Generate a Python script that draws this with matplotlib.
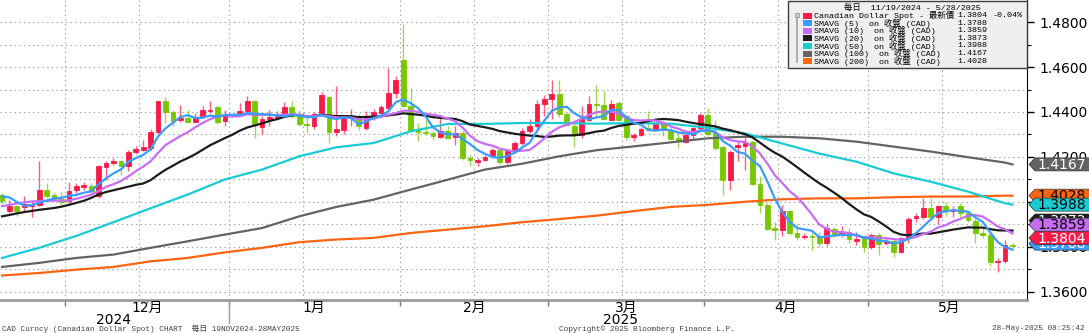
import numpy as np
import pandas as pd
import matplotlib
matplotlib.use("Agg")
import matplotlib.pyplot as plt
from matplotlib.patches import Polygon, Rectangle
from matplotlib.transforms import blended_transform_factory

SANS = ["DejaVu Sans", "Noto Sans CJK TC"]
MONO = ["Liberation Mono", "Noto Sans CJK TC"]

# daily USD/CAD bars, one per weekday 19 Nov 2024 .. 28 May 2025
dates = pd.bdate_range("2024-11-19", "2025-05-28")

opens = [1.4033, 1.3958, 1.3981, 1.3976, 1.3981, 1.3988, 1.4055, 1.4033, 1.4013, 1.4003,
         1.4052, 1.4067, 1.4073, 1.4025, 1.4156, 1.4173, 1.4181, 1.4159, 1.4221, 1.4233,
         1.4240, 1.4310, 1.4447, 1.4399, 1.4363, 1.4373, 1.4357, 1.4381, 1.4406, 1.4422,
         1.4359, 1.4384, 1.4393, 1.4403, 1.4447, 1.4333, 1.4370, 1.4378, 1.4393, 1.4422,
         1.4381, 1.4348, 1.4339, 1.4391, 1.4467, 1.4310, 1.4321, 1.4375, 1.4381, 1.4329,
         1.4373, 1.4396, 1.4418, 1.4484, 1.4630, 1.4428, 1.4321, 1.4313, 1.4307, 1.4289,
         1.4314, 1.4287, 1.4307, 1.4196, 1.4176, 1.4188, 1.4203, 1.4233, 1.4176, 1.4225,
         1.4262, 1.4314, 1.4336, 1.4437, 1.4458, 1.4481, 1.4393, 1.4339, 1.4299, 1.4366,
         1.4437, 1.4433, 1.4366, 1.4440, 1.4381, 1.4289, 1.4296, 1.4329, 1.4324, 1.4351,
         1.4321, 1.4284, 1.4265, 1.4299, 1.4329, 1.4388, 1.4307, 1.4244, 1.4099, 1.4244,
         1.4250, 1.4265, 1.4081, 1.3985, 1.3884, 1.3874, 1.3959, 1.3862, 1.3844, 1.3849,
         1.3846, 1.3816, 1.3881, 1.3858, 1.3868, 1.3828, 1.3838, 1.3801, 1.3853, 1.3816,
         1.3828, 1.3779, 1.3839, 1.3927, 1.3935, 1.3975, 1.3935, 1.3982, 1.3961, 1.3982,
         1.3953, 1.3917, 1.3864, 1.3853, 1.3735, 1.3739, 1.3810]
highs = [1.4042, 1.4010, 1.3988, 1.4025, 1.4003, 1.4181, 1.4084, 1.4043, 1.4047, 1.4087,
         1.4084, 1.4087, 1.4084, 1.4166, 1.4181, 1.4194, 1.4188, 1.4230, 1.4250, 1.4277,
         1.4324, 1.4450, 1.4467, 1.4410, 1.4433, 1.4410, 1.4396, 1.4425, 1.4447, 1.4433,
         1.4410, 1.4392, 1.4440, 1.4470, 1.4455, 1.4381, 1.4410, 1.4403, 1.4443, 1.4447,
         1.4410, 1.4381, 1.4399, 1.4487, 1.4473, 1.4514, 1.4381, 1.4413, 1.4391, 1.4403,
         1.4413, 1.4433, 1.4596, 1.4559, 1.4793, 1.4507, 1.4351, 1.4366, 1.4314, 1.4373,
         1.4339, 1.4336, 1.4314, 1.4210, 1.4196, 1.4210, 1.4240, 1.4240, 1.4233, 1.4270,
         1.4329, 1.4369, 1.4452, 1.4477, 1.4544, 1.4544, 1.4399, 1.4351, 1.4428, 1.4470,
         1.4521, 1.4492, 1.4455, 1.4447, 1.4388, 1.4307, 1.4333, 1.4403, 1.4366, 1.4366,
         1.4336, 1.4307, 1.4307, 1.4333, 1.4396, 1.4418, 1.4366, 1.4255, 1.4233, 1.4270,
         1.4292, 1.4277, 1.4114, 1.3996, 1.3910, 1.3988, 1.3966, 1.3907, 1.3862, 1.3868,
         1.3868, 1.3902, 1.3890, 1.3893, 1.3883, 1.3868, 1.3853, 1.3861, 1.3861, 1.3839,
         1.3839, 1.3846, 1.3935, 1.3950, 1.4016, 1.4016, 1.3987, 1.4001, 1.3982, 1.3994,
         1.3960, 1.3927, 1.3890, 1.3861, 1.3750, 1.3831, 1.3819]
lows = [1.3990, 1.3951, 1.3936, 1.3958, 1.3933, 1.3981, 1.4018, 1.4003, 1.3988, 1.3993,
        1.4040, 1.4055, 1.4040, 1.4018, 1.4099, 1.4166, 1.4121, 1.4136, 1.4215, 1.4225,
        1.4233, 1.4304, 1.4351, 1.4336, 1.4354, 1.4351, 1.4351, 1.4378, 1.4396, 1.4348,
        1.4339, 1.4378, 1.4381, 1.4396, 1.4284, 1.4300, 1.4339, 1.4366, 1.4381, 1.4373,
        1.4339, 1.4307, 1.4324, 1.4384, 1.4262, 1.4292, 1.4304, 1.4336, 1.4319, 1.4321,
        1.4366, 1.4388, 1.4410, 1.4462, 1.4422, 1.4314, 1.4270, 1.4299, 1.4274, 1.4284,
        1.4280, 1.4255, 1.4185, 1.4159, 1.4161, 1.4181, 1.4196, 1.4170, 1.4170, 1.4218,
        1.4255, 1.4307, 1.4329, 1.4381, 1.4369, 1.4378, 1.4336, 1.4244, 1.4284, 1.4361,
        1.4381, 1.4366, 1.4359, 1.4359, 1.4277, 1.4270, 1.4292, 1.4314, 1.4319, 1.4292,
        1.4274, 1.4240, 1.4262, 1.4277, 1.4321, 1.4292, 1.4233, 1.4033, 1.4055, 1.4181,
        1.4144, 1.4077, 1.3951, 1.3874, 1.3833, 1.3850, 1.3855, 1.3833, 1.3836, 1.3787,
        1.3799, 1.3804, 1.3846, 1.3846, 1.3816, 1.3809, 1.3779, 1.3790, 1.3764, 1.3809,
        1.3757, 1.3772, 1.3816, 1.3913, 1.3923, 1.3932, 1.3902, 1.3938, 1.3935, 1.3935,
        1.3913, 1.3816, 1.3839, 1.3716, 1.3690, 1.3727, 1.3801]
closes = [1.4005, 1.3981, 1.3960, 1.3993, 1.3993, 1.4055, 1.4028, 1.4013, 1.3999, 1.4047,
          1.4070, 1.4074, 1.4047, 1.4159, 1.4173, 1.4184, 1.4159, 1.4221, 1.4236, 1.4243,
          1.4310, 1.4447, 1.4399, 1.4359, 1.4373, 1.4354, 1.4378, 1.4407, 1.4409, 1.4354,
          1.4384, 1.4386, 1.4403, 1.4447, 1.4344, 1.4369, 1.4376, 1.4391, 1.4422, 1.4381,
          1.4348, 1.4342, 1.4391, 1.4477, 1.4310, 1.4324, 1.4373, 1.4381, 1.4339, 1.4373,
          1.4399, 1.4421, 1.4484, 1.4541, 1.4428, 1.4321, 1.4310, 1.4307, 1.4292, 1.4314,
          1.4284, 1.4307, 1.4196, 1.4185, 1.4185, 1.4199, 1.4233, 1.4176, 1.4225, 1.4262,
          1.4314, 1.4336, 1.4437, 1.4459, 1.4481, 1.4393, 1.4344, 1.4299, 1.4369, 1.4437,
          1.4431, 1.4369, 1.4437, 1.4366, 1.4289, 1.4299, 1.4326, 1.4321, 1.4348, 1.4321,
          1.4280, 1.4277, 1.4299, 1.4329, 1.4388, 1.4300, 1.4240, 1.4099, 1.4221, 1.4252,
          1.4262, 1.4081, 1.3985, 1.3880, 1.3874, 1.3959, 1.3862, 1.3844, 1.3850, 1.3843,
          1.3816, 1.3883, 1.3858, 1.3868, 1.3834, 1.3834, 1.3801, 1.3853, 1.3813, 1.3828,
          1.3779, 1.3839, 1.3923, 1.3938, 1.3975, 1.3935, 1.3982, 1.3961, 1.3967, 1.3953,
          1.3920, 1.3861, 1.3853, 1.3735, 1.3739, 1.3809, 1.3804]

# fast moving averages, one value per bar
sma5 = [1.4025, 1.4020, 1.4000, 1.3983, 1.3986, 1.3996, 1.4006, 1.4016, 1.4018, 1.4028,
        1.4031, 1.4041, 1.4047, 1.4079, 1.4105, 1.4127, 1.4144, 1.4179, 1.4195, 1.4209,
        1.4234, 1.4291, 1.4327, 1.4352, 1.4378, 1.4386, 1.4373, 1.4374, 1.4384, 1.4380,
        1.4386, 1.4388, 1.4387, 1.4395, 1.4393, 1.4390, 1.4388, 1.4385, 1.4380, 1.4388,
        1.4384, 1.4377, 1.4377, 1.4388, 1.4374, 1.4369, 1.4375, 1.4373, 1.4345, 1.4358,
        1.4373, 1.4383, 1.4403, 1.4444, 1.4455, 1.4439, 1.4417, 1.4381, 1.4332, 1.4309,
        1.4301, 1.4301, 1.4279, 1.4257, 1.4231, 1.4214, 1.4200, 1.4196, 1.4204, 1.4219,
        1.4242, 1.4263, 1.4315, 1.4362, 1.4405, 1.4421, 1.4423, 1.4395, 1.4377, 1.4368,
        1.4376, 1.4381, 1.4409, 1.4408, 1.4378, 1.4352, 1.4343, 1.4320, 1.4317, 1.4323,
        1.4319, 1.4309, 1.4305, 1.4301, 1.4315, 1.4319, 1.4311, 1.4271, 1.4250, 1.4222,
        1.4215, 1.4183, 1.4160, 1.4092, 1.4016, 1.3956, 1.3912, 1.3884, 1.3878, 1.3872,
        1.3843, 1.3847, 1.3850, 1.3854, 1.3852, 1.3855, 1.3839, 1.3838, 1.3827, 1.3826,
        1.3815, 1.3822, 1.3836, 1.3861, 1.3891, 1.3922, 1.3951, 1.3958, 1.3964, 1.3960,
        1.3957, 1.3932, 1.3911, 1.3864, 1.3822, 1.3799, 1.3788]
sma10 = [1.3981, 1.3987, 1.3993, 1.3998, 1.4002, 1.4004, 1.4005, 1.4006, 1.4006, 1.4007,
         1.4014, 1.4023, 1.4032, 1.4049, 1.4067, 1.4079, 1.4093, 1.4113, 1.4137, 1.4157,
         1.4181, 1.4218, 1.4253, 1.4273, 1.4293, 1.4310, 1.4332, 1.4351, 1.4368, 1.4379,
         1.4386, 1.4380, 1.4381, 1.4390, 1.4387, 1.4388, 1.4388, 1.4386, 1.4388, 1.4390,
         1.4387, 1.4382, 1.4381, 1.4384, 1.4381, 1.4376, 1.4376, 1.4375, 1.4367, 1.4366,
         1.4371, 1.4379, 1.4388, 1.4395, 1.4406, 1.4406, 1.4400, 1.4392, 1.4388, 1.4382,
         1.4370, 1.4359, 1.4330, 1.4294, 1.4270, 1.4258, 1.4250, 1.4237, 1.4230, 1.4225,
         1.4228, 1.4231, 1.4255, 1.4283, 1.4312, 1.4332, 1.4343, 1.4355, 1.4369, 1.4387,
         1.4399, 1.4402, 1.4402, 1.4393, 1.4373, 1.4364, 1.4362, 1.4364, 1.4362, 1.4351,
         1.4336, 1.4326, 1.4313, 1.4309, 1.4319, 1.4319, 1.4310, 1.4288, 1.4275, 1.4269,
         1.4267, 1.4247, 1.4216, 1.4171, 1.4119, 1.4085, 1.4048, 1.4022, 1.3985, 1.3944,
         1.3899, 1.3880, 1.3867, 1.3866, 1.3862, 1.3849, 1.3843, 1.3844, 1.3840, 1.3839,
         1.3835, 1.3831, 1.3837, 1.3844, 1.3858, 1.3868, 1.3887, 1.3897, 1.3913, 1.3925,
         1.3939, 1.3942, 1.3935, 1.3914, 1.3891, 1.3878, 1.3860]
sma20 = [1.3936, 1.3942, 1.3949, 1.3955, 1.3960, 1.3965, 1.3969, 1.3973, 1.3979, 1.3987,
         1.3996, 1.4005, 1.4018, 1.4033, 1.4044, 1.4052, 1.4060, 1.4068, 1.4076, 1.4082,
         1.4097, 1.4121, 1.4143, 1.4161, 1.4180, 1.4195, 1.4212, 1.4232, 1.4252, 1.4268,
         1.4284, 1.4299, 1.4317, 1.4331, 1.4340, 1.4349, 1.4360, 1.4368, 1.4378, 1.4385,
         1.4387, 1.4381, 1.4381, 1.4387, 1.4384, 1.4382, 1.4382, 1.4381, 1.4377, 1.4378,
         1.4379, 1.4381, 1.4385, 1.4389, 1.4394, 1.4391, 1.4388, 1.4384, 1.4377, 1.4374,
         1.4371, 1.4369, 1.4359, 1.4344, 1.4338, 1.4332, 1.4325, 1.4315, 1.4309, 1.4303,
         1.4299, 1.4295, 1.4293, 1.4289, 1.4291, 1.4295, 1.4296, 1.4296, 1.4300, 1.4306,
         1.4313, 1.4317, 1.4329, 1.4338, 1.4343, 1.4348, 1.4352, 1.4360, 1.4366, 1.4369,
         1.4367, 1.4364, 1.4357, 1.4351, 1.4346, 1.4341, 1.4336, 1.4326, 1.4319, 1.4310,
         1.4301, 1.4287, 1.4264, 1.4240, 1.4219, 1.4202, 1.4179, 1.4155, 1.4130, 1.4106,
         1.4083, 1.4063, 1.4041, 1.4018, 1.3991, 1.3967, 1.3945, 1.3933, 1.3913, 1.3891,
         1.3867, 1.3855, 1.3852, 1.3855, 1.3860, 1.3859, 1.3865, 1.3871, 1.3877, 1.3882,
         1.3887, 1.3886, 1.3886, 1.3879, 1.3874, 1.3873, 1.3873]

# slow moving averages at every 5th bar
slow_bars = [0, 5, 10, 15, 20, 25, 30, 35, 40, 45, 50, 55, 60, 65, 70, 75, 80, 85, 90, 95,
             100, 105, 110, 115, 120, 125, 130, 135, 136]
sma50 = [1.3751, 1.3796, 1.3849, 1.3910, 1.3972, 1.4033, 1.4100, 1.4144, 1.4203, 1.4243,
         1.4262, 1.4314, 1.4347, 1.4347, 1.4351, 1.4351, 1.4348, 1.4351, 1.4348, 1.4330,
         1.4305, 1.4260, 1.4215, 1.4179, 1.4127, 1.4090, 1.4046, 1.3994, 1.3988]
sma100 = [1.3711, 1.3729, 1.3751, 1.3766, 1.3796, 1.3825, 1.3855, 1.3884, 1.3936, 1.3978,
          1.4010, 1.4055, 1.4099, 1.4144, 1.4170, 1.4203, 1.4230, 1.4247, 1.4265, 1.4283,
          1.4290, 1.4290, 1.4283, 1.4268, 1.4246, 1.4224, 1.4199, 1.4175, 1.4167]
sma200 = [1.3673, 1.3684, 1.3699, 1.3711, 1.3736, 1.3751, 1.3776, 1.3796, 1.3821, 1.3833,
          1.3840, 1.3862, 1.3877, 1.3892, 1.3910, 1.3924, 1.3939, 1.3959, 1.3978, 1.3987,
          1.4001, 1.4012, 1.4016, 1.4016, 1.4021, 1.4024, 1.4024, 1.4028, 1.4028]

ma_names = ["SMAVG (5)  on 收盤 (CAD)", "SMAVG (10)  on 收盤 (CAD)", "SMAVG (20)  on 收盤 (CAD)",
            "SMAVG (50)  on 收盤 (CAD)", "SMAVG (100)  on 收盤 (CAD)", "SMAVG (200)  on 收盤 (CAD)"]
ma_last = [1.3788, 1.3859, 1.3873, 1.3988, 1.4167, 1.4028]
spot_name = "Canadian Dollar Spot - 最新價"
spot_last = 1.3804
spot_chg = "-0.04%"
price_ticks = [1.36, 1.38, 1.40, 1.42, 1.44, 1.46, 1.48]

RED, GREEN = "#f81b47", "#78c800"
MA_COLORS = ["#3a9cff", "#c86cf4", "#1c1c1c", "#19cbd3", "#636363", "#ff6410"]
GRID = dict(color="#9c9c9c", ls=(0, (1.2, 3)), lw=0.8)

W, H = 1089, 333
fig = plt.figure(figsize=(W / 100, H / 100), dpi=100)
ax = fig.add_axes([0, 1 - 300 / H, 1027 / W, 300 / H])
ax.set_xlim(-0.27, 137.95)
ax.set_ylim(1.3564, 1.4898)

# candles (red = up, green = down)
x = np.arange(len(closes))
o, hi, lo, c = (np.asarray(a) for a in (opens, highs, lows, closes))
col = np.where(c >= o, RED, GREEN)
ax.vlines(x, lo, hi, colors=col, lw=1, alpha=0.7, zorder=2)
ax.bar(x, np.abs(c - o), bottom=np.minimum(o, c), width=0.64, color=col,
       edgecolor=col, lw=0.6, zorder=3)
for xs, vals, mc in [(slow_bars, sma200, MA_COLORS[5]), (slow_bars, sma100, MA_COLORS[4]),
                     (slow_bars, sma50, MA_COLORS[3]), (x, sma20, MA_COLORS[2]),
                     (x, sma10, MA_COLORS[1]), (x, sma5, MA_COLORS[0])]:
    ax.plot(xs, vals, color=mc, lw=1.6, zorder=4)

# right price axis
ax.yaxis.tick_right()
ax.set_yticks(price_ticks)
ax.set_yticks([1.36 + 0.01 * k for k in range(13)], minor=True)
ax.yaxis.set_major_formatter(lambda v, p: f"{v:.4f}")
ax.tick_params(axis="y", which="major", length=5, width=1, pad=4, labelsize=10)
ax.tick_params(axis="y", which="minor", length=3, width=0.8)
ax.grid(axis="y", which="both", **GRID)
for s in ("left", "top"):
    ax.spines[s].set_visible(False)
ax.spines["right"].set_color("black")
ax.spines["bottom"].set_color("#9a9a9a")
ax.spines["bottom"].set_linewidth(2)

# date axis: gridlines on the 1st and 15th, labels in mid-month
months = pd.date_range("2024-12-01", "2025-05-01", freq="MS")
starts = [np.searchsorted(dates, m) - 0.5 for m in months]
fifteenths = [np.searchsorted(dates, m + pd.Timedelta(days=14)) - 0.5 for m in months]
for gx in starts + fifteenths:
    ax.axvline(gx, zorder=1, **GRID)
mids = []
for m in months:
    full = pd.bdate_range(m, m + pd.offsets.MonthEnd(0))
    mids.append(np.searchsorted(dates, full[0]) + (len(full) - 1) / 2)
ax.set_xticks(starts)
ax.set_xticks(mids, minor=True)
ax.tick_params(axis="x", which="major", length=4, width=1, color="#777777", labelbottom=False)
ax.tick_params(axis="x", which="minor", length=2, width=1, color="#777777")
bt = blended_transform_factory(ax.transData, ax.transAxes)
for m, mx in zip(months, mids):
    ax.text(mx, -0.028, f"{m.month}月", transform=bt, ha="center", va="center",
            fontsize=10, family=SANS)
year_cut = np.searchsorted(dates, pd.Timestamp("2025-01-01")) - 0.5
ax.plot([year_cut, year_cut], [0, -0.075], transform=bt, clip_on=False, color="#999999", lw=1)
ax.text((year_cut - 0.5) / 2, -0.065, "2024", transform=bt, ha="center", va="center",
        fontsize=10)
ax.text((year_cut + len(dates) - 1) / 2, -0.065, "2025", transform=bt, ha="center",
        va="center", fontsize=10)

# overlay in pixel coordinates for tags, legend and footer
ov = fig.add_axes([0, 0, 1, 1], zorder=5)
ov.set_xlim(0, W)
ov.set_ylim(H, 0)
ov.axis("off")


def ypix(v):
    return H - ax.transData.transform((0, v))[1]


# last-value tags, later ones drawn on top of earlier ones
tags = [(ma_last[4], MA_COLORS[4], "white", 0), (ma_last[5], MA_COLORS[5], "black", 0),
        (ma_last[3], MA_COLORS[3], "black", 0), (ma_last[2], MA_COLORS[2], "white", -10),
        (ma_last[1], MA_COLORS[1], "black", -9), (ma_last[0], MA_COLORS[0], "white", -6),
        (spot_last, RED, "white", -8)]
for k, (val, fc, tc, dy) in enumerate(tags):
    yc = ypix(val) + dy
    ov.add_patch(Polygon([(1029, yc), (1035, yc - 6.5), (1090, yc - 6.5), (1090, yc + 6.5),
                          (1035, yc + 6.5)], closed=True, fc=fc, ec="#333333", lw=0.5,
                         zorder=10 + 2 * k))
    ov.text(1062, yc + 0.5, f"{val:.4f}", color=tc, fontsize=10, ha="center", va="center",
            zorder=11 + 2 * k)

# legend box
ov.add_patch(Rectangle((788, 0.5), 239, 67.5, fc="#efefef", ec="#3c3c3c", lw=1, zorder=2))
ov.text(912, 7.5, "每日  11/19/2024 - 5/28/2025", family=MONO, fontsize=6,
        ha="center", va="center", zorder=3)
ov.plot([797, 797], [15, 62], color="#a0a0a0", lw=1.2, zorder=3)
ov.add_patch(Rectangle((795, 13), 4, 4, fc="#c8c8c8", ec="#888888", lw=0.5, zorder=3))
rows = [(spot_name, RED, spot_last)] + list(zip(ma_names, MA_COLORS, ma_last))
for k, (name, fc, val) in enumerate(rows):
    yr = 15.5 + 7.6 * k
    ov.add_patch(Rectangle((803, yr - 3), 9, 6, fc=fc, ec="none", zorder=3))
    ov.text(814, yr, name, family=MONO, fontsize=6, ha="left", va="center", zorder=3)
    ov.text(987, yr, f"{val:.4f}", family=MONO, fontsize=6, ha="right", va="center", zorder=3)
ov.text(1023, 15.5, spot_chg, family=MONO, fontsize=6, ha="right", va="center", zorder=3)

# footer
foot = dict(family=MONO, fontsize=5.6, color="#444444", va="center")
ov.text(2, 329, "CAD Curncy (Canadian Dollar Spot) CHART  每日 19NOV2024-28MAY2025", ha="left", **foot)
ov.text(559, 329, "Copyright© 2025 Bloomberg Finance L.P.", ha="left", **foot)
ov.text(1085, 329, "28-May-2025 08:25:42", ha="right", **foot)

fig.savefig("out.png", dpi=100, facecolor="white")
